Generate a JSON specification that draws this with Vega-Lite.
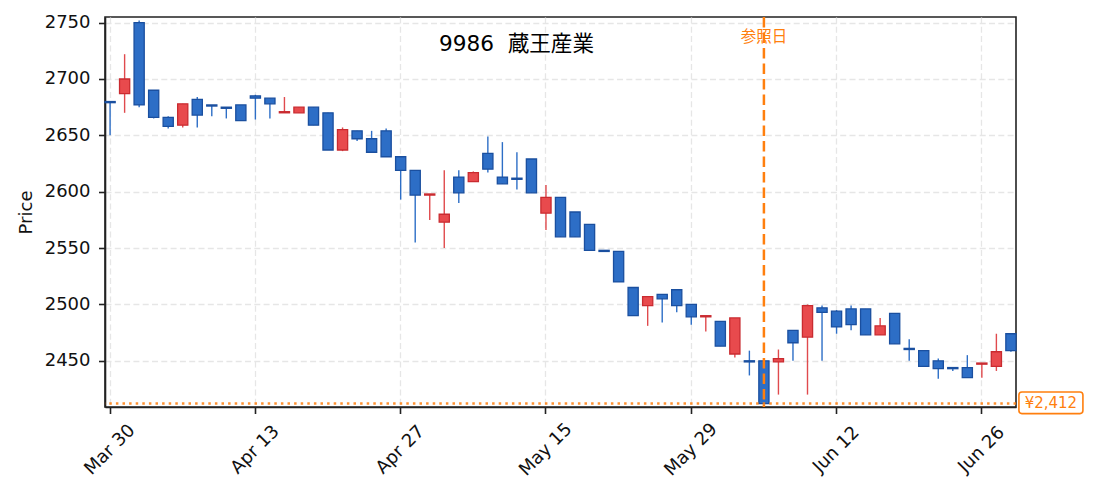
{
  "$schema": "https://vega.github.io/schema/vega-lite/v6.json",
  "width": 911,
  "height": 390,
  "autosize": {"type": "none"},
  "padding": {"left": 105, "top": 17, "right": 79, "bottom": 89},
  "background": "white",
  "title": {
    "text": "9986\u00a0\u00a0蔵王産業",
    "frame": "group",
    "anchor": "middle",
    "orient": "top",
    "offset": -59,
    "dx": -44,
    "baseline": "alphabetic",
    "font": "DejaVu Sans, Noto Sans CJK JP",
    "fontSize": 21.6,
    "fontWeight": "normal",
    "color": "#000"
  },
  "config": {
    "view": {"stroke": "#222", "strokeWidth": 1.6},
    "font": "DejaVu Sans",
    "axis": {
      "labelFont": "DejaVu Sans",
      "labelFontSize": 18,
      "labelColor": "#111",
      "titleFont": "DejaVu Sans",
      "titleFontSize": 18,
      "titleFontWeight": "normal",
      "titleColor": "#111",
      "domainColor": "#222",
      "domainWidth": 1.6,
      "tickColor": "#222",
      "tickWidth": 1.6,
      "tickSize": 6.5,
      "labelPadding": 8.5,
      "grid": true,
      "gridColor": "#e6e6e6",
      "gridDash": [6, 3.3],
      "gridWidth": 1.3
    }
  },
  "data": {
    "values": [
      {"date": "2020-03-30", "open": 2680, "high": 2680, "low": 2650, "close": 2679},
      {"date": "2020-03-31", "open": 2687, "high": 2722, "low": 2670, "close": 2700},
      {"date": "2020-04-01", "open": 2750, "high": 2752, "low": 2675, "close": 2677},
      {"date": "2020-04-02", "open": 2690, "high": 2690, "low": 2665, "close": 2666},
      {"date": "2020-04-03", "open": 2666, "high": 2667, "low": 2656, "close": 2658},
      {"date": "2020-04-06", "open": 2659, "high": 2678, "low": 2657, "close": 2678},
      {"date": "2020-04-07", "open": 2682, "high": 2684, "low": 2657, "close": 2668},
      {"date": "2020-04-08", "open": 2677, "high": 2677, "low": 2667, "close": 2676},
      {"date": "2020-04-09", "open": 2675, "high": 2675, "low": 2665, "close": 2674},
      {"date": "2020-04-10", "open": 2677, "high": 2677, "low": 2663, "close": 2663},
      {"date": "2020-04-13", "open": 2685, "high": 2686, "low": 2664, "close": 2683},
      {"date": "2020-04-14", "open": 2683, "high": 2683, "low": 2665, "close": 2678},
      {"date": "2020-04-15", "open": 2670, "high": 2684, "low": 2670, "close": 2671},
      {"date": "2020-04-16", "open": 2670, "high": 2675, "low": 2670, "close": 2675},
      {"date": "2020-04-17", "open": 2675, "high": 2675, "low": 2659, "close": 2659},
      {"date": "2020-04-20", "open": 2670, "high": 2670, "low": 2637, "close": 2637},
      {"date": "2020-04-21", "open": 2637, "high": 2657, "low": 2636, "close": 2655},
      {"date": "2020-04-22", "open": 2654, "high": 2654, "low": 2645, "close": 2647},
      {"date": "2020-04-23", "open": 2647, "high": 2654, "low": 2635, "close": 2635},
      {"date": "2020-04-24", "open": 2654, "high": 2656, "low": 2631, "close": 2631},
      {"date": "2020-04-27", "open": 2631, "high": 2631, "low": 2593, "close": 2619},
      {"date": "2020-04-28", "open": 2619, "high": 2619, "low": 2555, "close": 2597},
      {"date": "2020-04-30", "open": 2597, "high": 2598, "low": 2575, "close": 2598},
      {"date": "2020-05-01", "open": 2573, "high": 2619, "low": 2550, "close": 2580},
      {"date": "2020-05-07", "open": 2613, "high": 2619, "low": 2590, "close": 2599},
      {"date": "2020-05-08", "open": 2609, "high": 2618, "low": 2609, "close": 2617},
      {"date": "2020-05-11", "open": 2634, "high": 2649, "low": 2617, "close": 2620},
      {"date": "2020-05-12", "open": 2613, "high": 2644, "low": 2607, "close": 2607},
      {"date": "2020-05-13", "open": 2612, "high": 2635, "low": 2602, "close": 2611},
      {"date": "2020-05-14", "open": 2629, "high": 2629, "low": 2599, "close": 2599},
      {"date": "2020-05-15", "open": 2581, "high": 2606, "low": 2566, "close": 2595},
      {"date": "2020-05-18", "open": 2595, "high": 2595, "low": 2560, "close": 2560},
      {"date": "2020-05-19", "open": 2582, "high": 2582, "low": 2560, "close": 2560},
      {"date": "2020-05-20", "open": 2571, "high": 2571, "low": 2548, "close": 2548},
      {"date": "2020-05-21", "open": 2548, "high": 2548, "low": 2547, "close": 2547},
      {"date": "2020-05-22", "open": 2547, "high": 2547, "low": 2520, "close": 2520},
      {"date": "2020-05-25", "open": 2515, "high": 2515, "low": 2490, "close": 2490},
      {"date": "2020-05-26", "open": 2499, "high": 2507, "low": 2481, "close": 2507},
      {"date": "2020-05-27", "open": 2509, "high": 2509, "low": 2484, "close": 2505},
      {"date": "2020-05-28", "open": 2513, "high": 2513, "low": 2493, "close": 2499},
      {"date": "2020-05-29", "open": 2500, "high": 2500, "low": 2482, "close": 2489},
      {"date": "2020-06-01", "open": 2489, "high": 2490, "low": 2476, "close": 2490},
      {"date": "2020-06-02", "open": 2485, "high": 2485, "low": 2463, "close": 2463},
      {"date": "2020-06-03", "open": 2456, "high": 2488, "low": 2453, "close": 2488},
      {"date": "2020-06-04", "open": 2450, "high": 2459, "low": 2437, "close": 2449},
      {"date": "2020-06-05", "open": 2450, "high": 2450, "low": 2412, "close": 2412},
      {"date": "2020-06-08", "open": 2449, "high": 2460, "low": 2420, "close": 2452},
      {"date": "2020-06-09", "open": 2477, "high": 2477, "low": 2450, "close": 2466},
      {"date": "2020-06-10", "open": 2471, "high": 2500, "low": 2420, "close": 2499},
      {"date": "2020-06-11", "open": 2497, "high": 2499, "low": 2450, "close": 2493},
      {"date": "2020-06-12", "open": 2494, "high": 2495, "low": 2474, "close": 2480},
      {"date": "2020-06-15", "open": 2496, "high": 2499, "low": 2477, "close": 2482},
      {"date": "2020-06-16", "open": 2496, "high": 2496, "low": 2473, "close": 2473},
      {"date": "2020-06-17", "open": 2473, "high": 2488, "low": 2473, "close": 2481},
      {"date": "2020-06-18", "open": 2492, "high": 2492, "low": 2465, "close": 2465},
      {"date": "2020-06-19", "open": 2461, "high": 2469, "low": 2450, "close": 2460},
      {"date": "2020-06-22", "open": 2459, "high": 2459, "low": 2445, "close": 2445},
      {"date": "2020-06-23", "open": 2450, "high": 2452, "low": 2434, "close": 2443},
      {"date": "2020-06-24", "open": 2444, "high": 2444, "low": 2441, "close": 2443},
      {"date": "2020-06-25", "open": 2444, "high": 2455, "low": 2435, "close": 2435},
      {"date": "2020-06-26", "open": 2447, "high": 2448, "low": 2435, "close": 2448},
      {"date": "2020-06-29", "open": 2445, "high": 2474, "low": 2441, "close": 2458},
      {"date": "2020-06-30", "open": 2474, "high": 2474, "low": 2458, "close": 2459}
    ]
  },
  "layer": [
    {
      "mark": {"type": "rule", "strokeWidth": 1.4},
      "encoding": {
        "x": {
          "field": "date",
          "type": "ordinal",
          "scale": {"paddingInner": 0.3, "paddingOuter": 0},
          "axis": {
            "title": null,
            "values": ["2020-03-30", "2020-04-13", "2020-04-27", "2020-05-15", "2020-05-29", "2020-06-12", "2020-06-26"],
            "labelExpr": "utcFormat(toDate(datum.value), '%b %d')",
            "labelAngle": -45,
            "labelAlign": "center",
            "labelBaseline": "middle",
            "labelPadding": 36,
            "labelOverlap": false
          }
        },
        "y": {
          "field": "low",
          "type": "quantitative",
          "scale": {"domain": [2409, 2755], "nice": false, "zero": false},
          "axis": {"title": "Price", "format": "d", "values": [2450, 2500, 2550, 2600, 2650, 2700, 2750], "titlePadding": 9}
        },
        "y2": {"field": "high"},
        "color": {"condition": {"test": "datum.close > datum.open", "value": "#e04a4d"}, "value": "#2d6ec6"}
      }
    },
    {
      "mark": {"type": "bar", "strokeWidth": 1.3},
      "encoding": {
        "x": {"field": "date", "type": "ordinal"},
        "y": {
          "field": "open",
          "type": "quantitative",
          "axis": {"title": "Price", "format": "d", "values": [2450, 2500, 2550, 2600, 2650, 2700, 2750], "titlePadding": 9}
        },
        "y2": {"field": "close"},
        "fill": {"condition": {"test": "datum.close > datum.open", "value": "#e84a4d"}, "value": "#2d6ec6"},
        "stroke": {"condition": {"test": "datum.close > datum.open", "value": "#c92b30"}, "value": "#1a4f9f"}
      }
    },
    {
      "data": {"values": [{}]},
      "mark": {"type": "rule", "strokeDash": [2.5, 4.1], "strokeWidth": 2.5, "color": "#ff7f0e", "opacity": 0.85},
      "encoding": {"y": {"datum": 2412}}
    },
    {
      "data": {"values": [{}]},
      "mark": {"type": "rule", "strokeDash": [10.5, 5], "strokeWidth": 2.5, "color": "#ff7f0e"},
      "encoding": {"x": {"datum": "2020-06-05", "type": "ordinal"}}
    },
    {
      "data": {"values": [{}]},
      "mark": {"type": "text", "font": "Noto Sans CJK JP", "fontSize": 15.5, "color": "#ff7f0e", "baseline": "middle", "align": "center"},
      "encoding": {
        "x": {"datum": "2020-06-05", "type": "ordinal"},
        "y": {"datum": 2737},
        "text": {"value": "参照日"}
      }
    },
    {
      "data": {"values": [{}]},
      "mark": {
        "type": "point",
        "shape": "M1.1,-1.16 L6.9,-1.16 Q7.2,-1.16 7.2,-0.86 L7.2,0.7 Q7.2,1 6.9,1 L1.1,1 Q0.8,1 0.8,0.7 L0.8,-0.86 Q0.8,-1.16 1.1,-1.16 Z",
        "size": 400,
        "filled": true,
        "fill": "white",
        "stroke": "#ff7f0e",
        "strokeWidth": 1.6,
        "opacity": 1
      },
      "encoding": {
        "x": {"datum": "2020-06-30", "type": "ordinal"},
        "y": {"datum": 2412}
      }
    },
    {
      "data": {"values": [{}]},
      "mark": {"type": "text", "fontSize": 15, "color": "#ff7f0e", "align": "center", "baseline": "middle", "dx": 40, "dy": -1},
      "encoding": {
        "x": {"datum": "2020-06-30", "type": "ordinal"},
        "y": {"datum": 2412},
        "text": {"value": "¥2,412"}
      }
    }
  ]
}
